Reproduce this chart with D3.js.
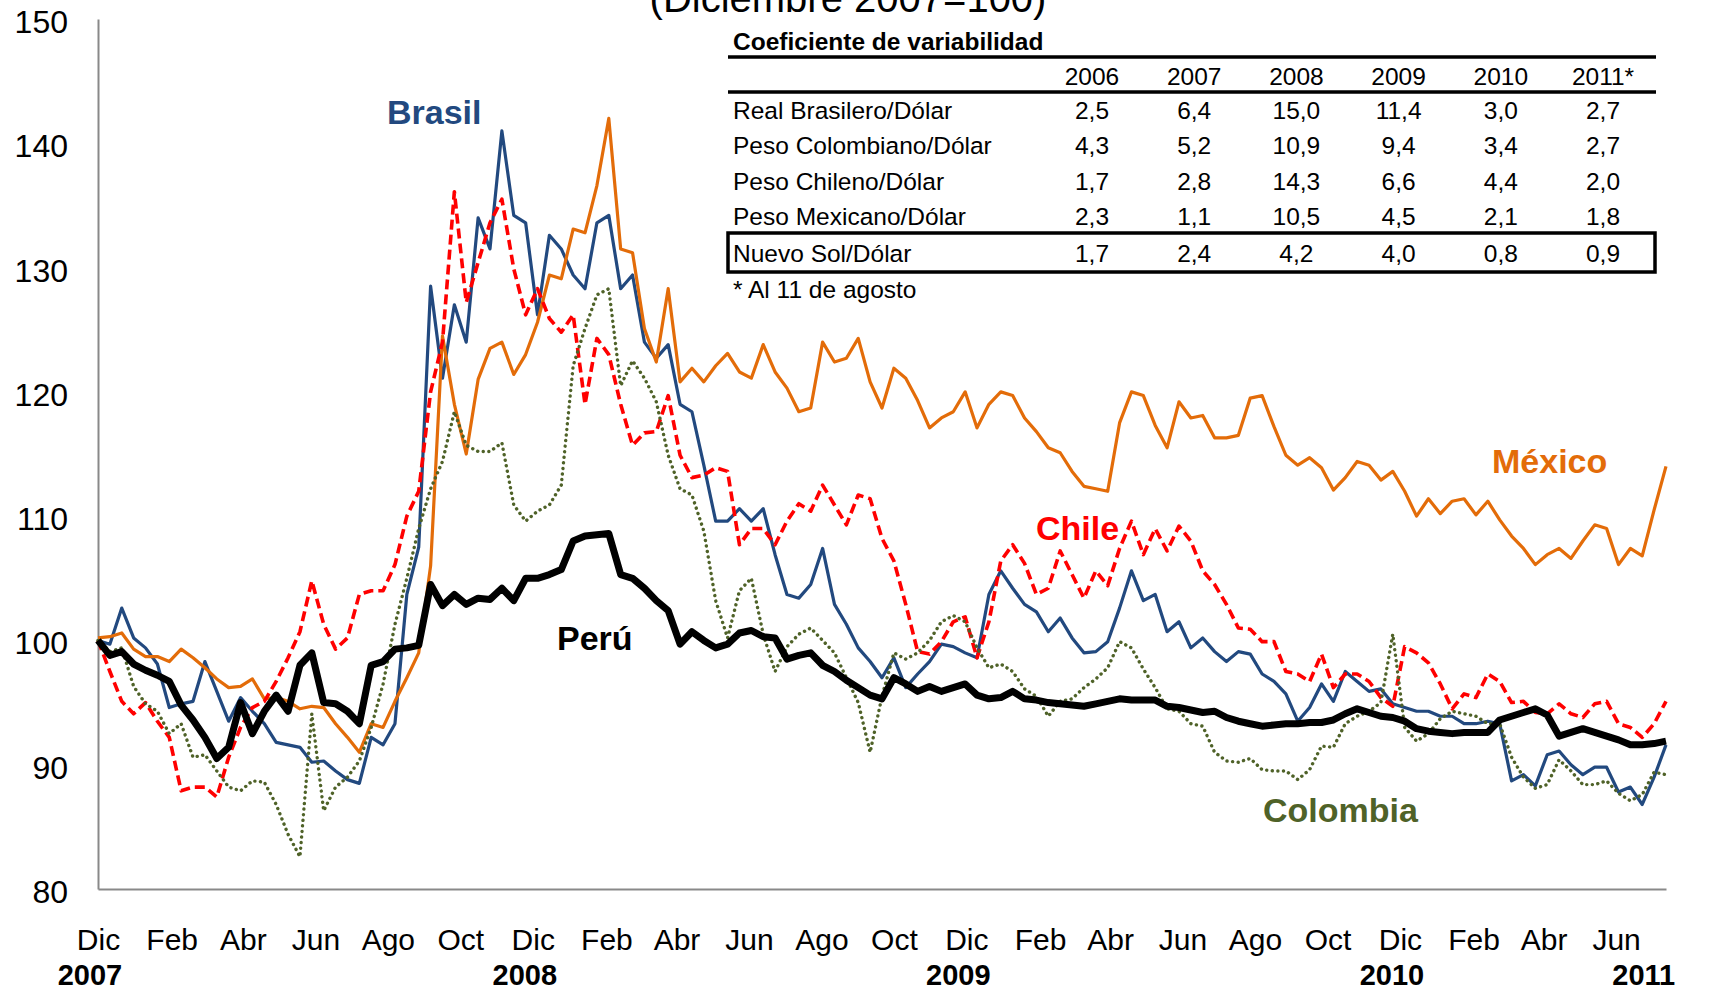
<!DOCTYPE html>
<html>
<head>
<meta charset="utf-8">
<script src="https://cdn.jsdelivr.net/npm/d3@7"></script>
<style>
  body { margin: 0; background: #fff; }
  svg text { font-family: "Liberation Sans", Arial, sans-serif; }
</style>
</head>
<body>
<svg id="fig_tc" width="1711" height="991"></svg>
<script>
// sampling grid: one reading every 10 days from 1 Dec 2007
var startDate = new Date(2007, 11, 1);
var stepDays = 10;

var brasil = [100, 99.7, 102.6, 100.2, 99.4, 98.1, 94.6, 94.9, 95.1, 98.3,
  95.9, 93.5, 95.4, 94.3, 93.3, 91.8, 91.6, 91.4, 90.2, 90.3,
  89.5, 88.8, 88.5, 92.2, 91.6, 93.3, 103.7, 107.5, 128.5, 121.1,
  127.0, 124.0, 134.0, 131.5, 141.0, 134.2, 133.6, 126.2, 132.6, 131.5,
  129.4, 128.3, 133.6, 134.2, 128.3, 129.4, 124.0, 122.7, 123.8, 119.0,
  118.4, 114.1, 109.6, 109.6, 110.6, 109.6, 110.6, 106.9, 103.7, 103.4,
  104.5, 107.4, 102.9, 101.3, 99.4, 98.3, 97.0, 98.6, 96.2, 97.3,
  98.3, 99.7, 99.5, 99.0, 98.6, 103.7, 105.6, 104.2, 102.9, 102.3,
  100.7, 101.8, 100.2, 99.0, 99.1, 99.9, 102.6, 105.6, 103.2, 103.7,
  100.7, 101.5, 99.4, 100.2, 99.1, 98.3, 99.1, 98.9, 97.3, 96.7,
  95.7, 93.5, 94.6, 96.5, 95.1, 97.5, 96.7, 95.9, 96.1, 94.9,
  94.6, 94.3, 94.3, 93.9, 93.9, 93.3, 93.3, 93.5, 93.3, 88.7,
  89.2, 88.3, 90.8, 91.1, 90.0, 89.2, 89.8, 89.8, 87.8, 88.2,
  86.8, 89.0, 91.6];

var mexico = [100.2, 100.3, 100.6, 99.3, 98.7, 98.7, 98.3, 99.3, 98.6, 97.8,
  96.9, 96.2, 96.3, 96.9, 95.3, 95.4, 95.1, 94.5, 94.7, 94.6,
  93.3, 92.2, 91.0, 93.3, 93.0, 95.1, 97.0, 99.0, 106.0, 124.5,
  119.0, 115.0, 121.0, 123.5, 124.0, 121.4, 123.0, 125.6, 129.4, 129.1,
  133.1, 132.8, 136.6, 142.0, 131.5, 131.2, 125.1, 122.4, 128.3, 120.8,
  121.9, 120.8, 122.1, 123.1, 121.6, 121.1, 123.8, 121.6, 120.3, 118.4,
  118.7, 124.0, 122.4, 122.7, 124.3, 120.8, 118.7, 121.9, 121.1, 119.3,
  117.1, 117.9, 118.4, 120.0, 117.1, 119.0, 120.0, 119.7, 117.9, 116.8,
  115.5, 115.1, 113.6, 112.4, 112.2, 112.0, 117.5, 120.0, 119.7, 117.3,
  115.5, 119.2, 117.9, 118.1, 116.3, 116.3, 116.5, 119.5, 119.7, 117.2,
  114.9, 114.1, 114.7, 113.9, 112.1, 113.1, 114.4, 114.1, 112.9, 113.6,
  112.0, 110.0, 111.4, 110.2, 111.2, 111.4, 110.1, 111.2, 109.7, 108.4,
  107.4, 106.1, 106.9, 107.4, 106.6, 108.0, 109.3, 109.0, 106.1, 107.4,
  106.8, 110.5, 114.0];

var chile = [100, 97.5, 95.1, 94.1, 95.0, 93.5, 92.2, 87.9, 88.2, 88.2,
  87.4, 90.6, 93.0, 94.6, 95.1, 96.7, 98.6, 100.7, 104.8, 101.3,
  99.3, 100.2, 103.7, 104.0, 104.0, 106.1, 110.0, 112.0, 120.0, 124.0,
  136.1, 127.2, 130.4, 133.6, 135.5, 129.9, 126.2, 128.3, 125.9, 124.8,
  126.2, 119.0, 124.3, 123.0, 119.0, 115.7, 116.7, 116.8, 119.7, 114.9,
  113.1, 113.3, 113.9, 113.6, 107.7, 109.0, 109.0, 107.7, 109.6, 111.0,
  110.4, 112.5, 110.9, 109.3, 111.7, 111.4, 108.2, 106.4, 102.9, 99.1,
  98.9, 99.9, 101.5, 101.9, 98.6, 101.5, 106.4, 107.7, 106.2, 103.7,
  104.2, 107.2, 105.3, 103.4, 105.6, 104.4, 107.4, 109.6, 106.9, 109.0,
  107.2, 109.2, 108.0, 105.6, 104.5, 102.9, 101.0, 100.9, 99.9, 99.9,
  97.5, 97.3, 96.7, 98.9, 96.2, 97.3, 97.3, 96.7, 95.4, 94.7,
  99.5, 99.0, 98.2, 96.5, 94.5, 95.7, 95.4, 97.3, 96.7, 95.0,
  95.1, 94.2, 94.1, 94.9, 94.1, 93.8, 94.9, 95.1, 93.3, 93.0,
  92.2, 93.3, 95.1];

var colombia = [100, 99.1, 99.4, 96.3, 94.9, 94.3, 92.5, 93.3, 90.6, 90.8,
  89.5, 88.2, 87.9, 88.7, 88.6, 86.8, 84.4, 82.6, 94.1, 86.3,
  88.2, 89.0, 90.3, 93.0, 96.5, 101.3, 105.0, 109.0, 112.2, 114.4,
  118.4, 115.7, 115.2, 115.2, 115.9, 110.9, 109.6, 110.4, 110.9, 112.5,
  122.1, 125.1, 127.8, 128.3, 120.5, 122.5, 121.1, 119.2, 114.9, 112.2,
  111.7, 108.8, 103.2, 100.2, 104.0, 105.0, 100.5, 97.5, 99.5, 100.5,
  101.0, 100.0, 99.0, 97.0, 95.0, 91.0, 95.5, 99.0, 98.5, 99.0,
  100.0, 101.5, 102.0, 101.5, 99.4, 97.8, 98.1, 97.5, 96.1, 95.5,
  93.9, 95.1, 95.3, 96.2, 96.9, 97.8, 99.9, 99.4, 97.7, 96.2,
  94.5, 94.3, 93.3, 93.1, 91.0, 90.3, 90.2, 90.5, 89.6, 89.5,
  89.5, 88.8, 89.6, 91.5, 91.4, 93.3, 93.9, 94.3, 95.0, 100.5,
  93.0, 91.9, 92.5, 93.7, 94.3, 94.1, 93.9, 93.3, 93.3, 90.6,
  89.0, 88.1, 88.4, 90.4, 89.5, 88.4, 88.4, 88.7, 87.7, 87.1,
  87.6, 89.4, 89.2];

var peru = [100, 98.8, 99.1, 98.1, 97.6, 97.2, 96.7, 94.8, 93.6, 92.2,
  90.5, 91.4, 95.0, 92.5, 94.3, 95.6, 94.3, 98.0, 99.0, 95.0,
  94.9, 94.3, 93.3, 98.0, 98.3, 99.3, 99.4, 99.6, 104.5, 102.8,
  103.7, 102.9, 103.4, 103.3, 104.2, 103.2, 105.0, 105.0, 105.3, 105.7,
  108.0, 108.4, 108.5, 108.6, 105.3, 105.0, 104.2, 103.2, 102.4, 99.7,
  100.7, 100.0, 99.4, 99.7, 100.6, 100.8, 100.3, 100.2, 98.5, 98.8,
  99.0, 98.0, 97.5, 96.8, 96.2, 95.6, 95.3, 97.0, 96.5, 95.9,
  96.3, 95.9, 96.2, 96.5, 95.6, 95.3, 95.4, 95.9, 95.3, 95.2,
  95.0, 94.9, 94.8, 94.7, 94.9, 95.1, 95.3, 95.2, 95.2, 95.2,
  94.7, 94.6, 94.4, 94.2, 94.3, 93.8, 93.5, 93.3, 93.1, 93.2,
  93.3, 93.3, 93.4, 93.4, 93.6, 94.1, 94.5, 94.2, 93.9, 93.8,
  93.5, 92.9, 92.7, 92.6, 92.5, 92.6, 92.6, 92.6, 93.6, 93.9,
  94.2, 94.5, 94.0, 92.3, 92.6, 92.9, 92.6, 92.3, 92.0, 91.6,
  91.6, 91.7, 91.9];

var yTicks = [80, 90, 100, 110, 120, 130, 140, 150];
var monthNames = ["Ene", "Feb", "Mar", "Abr", "May", "Jun", "Jul", "Ago", "Sep", "Oct", "Nov", "Dic"];
var yearLabels = [
  {label: "2007", date: new Date(2007, 11, 1)},
  {label: "2008", date: new Date(2008, 11, 1)},
  {label: "2009", date: new Date(2009, 11, 1)},
  {label: "2010", date: new Date(2010, 11, 1)},
  {label: "2011", date: new Date(2011, 6, 1)}
];

// cuadro de coeficientes de variabilidad
var tableYears = ["2006", "2007", "2008", "2009", "2010", "2011*"];
var rowNames = ["Real Brasilero/Dólar", "Peso Colombiano/Dólar", "Peso Chileno/Dólar", "Peso Mexicano/Dólar", "Nuevo Sol/Dólar"];
var cvBrasil = [2.5, 6.4, 15.0, 11.4, 3.0, 2.7];
var cvColombia = [4.3, 5.2, 10.9, 9.4, 3.4, 2.7];
var cvChile = [1.7, 2.8, 14.3, 6.6, 4.4, 2.0];
var cvMexico = [2.3, 1.1, 10.5, 4.5, 2.1, 1.8];
var cvPeru = [1.7, 2.4, 4.2, 4.0, 0.8, 0.9];

(function fig_tc() {
  var svg = d3.select("#fig_tc");
  var font = "'Liberation Sans', Arial, sans-serif";

  var dates = peru.map(function(d, i) { return d3.timeDay.offset(startDate, i * stepDays); });

  var x = d3.scaleTime()
      .domain([startDate, dates[dates.length - 1]])
      .range([98, 1666]);

  var y = d3.scaleLinear()
      .domain([80, 150])
      .range([889, 19]);

  var monthTicks = d3.range(22).map(function(k) { return d3.timeMonth.offset(startDate, 2 * k); });

  // subtitle, cut by the top edge as in the source
  svg.append("text")
      .attr("x", 848).attr("y", 12)
      .attr("text-anchor", "middle")
      .style("font-size", "40px")
      .text("(Diciembre 2007=100)");

  // axes
  svg.append("g")
      .attr("transform", "translate(98,0)")
      .call(d3.axisLeft(y).tickValues(yTicks).tickSize(0).tickPadding(30))
      .attr("font-family", font).attr("font-size", 32)
      .call(function(g) { g.select(".domain").attr("stroke", "#898989").attr("stroke-width", 2); })
      .selectAll("text").attr("dy", "0.42em").attr("fill", "#000");

  svg.append("g")
      .attr("transform", "translate(0,889)")
      .call(d3.axisBottom(x).tickValues(monthTicks).tickSize(0).tickPadding(40)
        .tickFormat(function(d) { return monthNames[d.getMonth()]; }))
      .attr("font-family", font).attr("font-size", 30)
      .call(function(g) { g.select(".domain").attr("stroke", "#898989").attr("stroke-width", 2); })
      .selectAll("text").attr("fill", "#000");

  svg.append("g")
    .selectAll("text")
    .data(yearLabels)
    .enter().append("text")
      .attr("x", function(d) { return x(d.date) - 8; })
      .attr("y", 985)
      .attr("text-anchor", "middle")
      .style("font-size", "29px")
      .style("font-weight", "bold")
      .text(function(d) { return d.label; });

  // series
  var series = [
    {name: "Brasil", values: brasil, color: "#22497f", width: 3.2, dash: null},
    {name: "México", values: mexico, color: "#e36c09", width: 3.2, dash: null},
    {name: "Chile", values: chile, color: "#ff0000", width: 3.6, dash: "10 5"},
    {name: "Colombia", values: colombia, color: "#4f6228", width: 3.4, dash: "0.1 5.5"},
    {name: "Perú", values: peru, color: "#000000", width: 7, dash: null}
  ];

  var line = d3.line()
      .x(function(d, i) { return x(dates[i]); })
      .y(function(d) { return y(d); });

  svg.append("g")
    .selectAll("path")
    .data(series)
    .enter().append("path")
      .attr("d", function(d) { return line(d.values); })
      .attr("fill", "none")
      .attr("stroke", function(d) { return d.color; })
      .attr("stroke-width", function(d) { return d.width; })
      .attr("stroke-dasharray", function(d) { return d.dash; })
      .attr("stroke-linecap", function(d) { return d.name == "Colombia" ? "round" : "butt"; })
      .attr("stroke-linejoin", "round");

  var seriesLabels = [
    {name: "Brasil", x: 387, y: 124, color: "#22497f"},
    {name: "México", x: 1492, y: 473, color: "#e36c09"},
    {name: "Chile", x: 1036, y: 540, color: "#ff0000"},
    {name: "Perú", x: 557, y: 650, color: "#000000"},
    {name: "Colombia", x: 1263, y: 822, color: "#4f6228"}
  ];

  svg.append("g")
    .selectAll("text")
    .data(seriesLabels)
    .enter().append("text")
      .attr("x", function(d) { return d.x; })
      .attr("y", function(d) { return d.y; })
      .attr("fill", function(d) { return d.color; })
      .style("font-size", "34px")
      .style("font-weight", "bold")
      .text(function(d) { return d.name; });

  // table
  var t = svg.append("g").style("font-size", "24.5px");
  var col = d3.scalePoint().domain(tableYears).range([1092, 1603]);
  var rows = [cvBrasil, cvColombia, cvChile, cvMexico, cvPeru];
  var rowY = [119, 154, 190, 225, 262];
  var fmt = function(v) { return v.toFixed(1).replace(".", ","); };

  t.append("text").attr("x", 733).attr("y", 50)
      .style("font-weight", "bold").text("Coeficiente de variabilidad");
  t.append("line").attr("x1", 728).attr("x2", 1656).attr("y1", 57).attr("y2", 57)
      .attr("stroke", "#000").attr("stroke-width", 3.5);
  t.append("line").attr("x1", 728).attr("x2", 1656).attr("y1", 92).attr("y2", 92)
      .attr("stroke", "#000").attr("stroke-width", 3.5);

  t.selectAll(".yr")
    .data(tableYears)
    .enter().append("text")
      .attr("class", "yr")
      .attr("x", function(d) { return col(d); })
      .attr("y", 85)
      .attr("text-anchor", "middle")
      .text(function(d) { return d; });

  rows.forEach(function(r, i) {
    t.append("text").attr("x", 733).attr("y", rowY[i]).text(rowNames[i]);
    t.selectAll(".v" + i)
      .data(r)
      .enter().append("text")
        .attr("class", "v" + i)
        .attr("x", function(d, j) { return col(tableYears[j]); })
        .attr("y", rowY[i])
        .attr("text-anchor", "middle")
        .text(fmt);
  });

  t.append("rect").attr("x", 728).attr("y", 233).attr("width", 927).attr("height", 39)
      .attr("fill", "none").attr("stroke", "#000").attr("stroke-width", 3.5);

  t.append("text").attr("x", 733).attr("y", 298).text("* Al 11 de agosto");
})();
</script>
</body>
</html>
